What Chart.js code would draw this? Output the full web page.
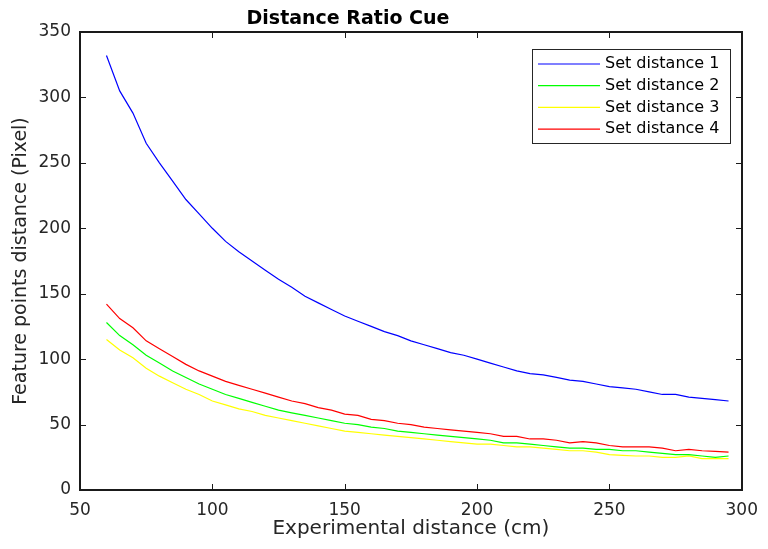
<!DOCTYPE html>
<html lang="en">
<head>
  <meta charset="UTF-8">
  <title>Distance Ratio Cue</title>
  <script src="https://cdn.jsdelivr.net/npm/chart.js"></script>
  <style>
    html, body { margin: 0; padding: 0; background: #fff; }
    #chart { display: block; }
  </style>
</head>
<body>
  <canvas id="chart" width="768" height="549"></canvas>

  <script>
    // experimental distance (cm)
    const distances = [60, 65, 70, 75, 80, 85, 90, 95, 100, 105,
      110, 115, 120, 125, 130, 135, 140, 145, 150, 155,
      160, 165, 170, 175, 180, 185, 190, 195, 200, 205,
      210, 215, 220, 225, 230, 235, 240, 245, 250, 255,
      260, 265, 270, 275, 280, 285, 290, 295];

    // feature points distance (pixel), one list per set distance
    const set1 = [332, 305, 288, 265, 250, 236, 222, 211, 200, 190,
      182, 175, 168, 161, 155, 148, 143, 138, 133, 129,
      125, 121, 118, 114, 111, 108, 105, 103, 100, 97,
      94, 91, 89, 88, 86, 84, 83, 81, 79, 78,
      77, 75, 73, 73, 71, 70, 69, 68];
    const set2 = [128, 118, 111, 103, 97, 91, 86, 81, 77, 73,
      70, 67, 64, 61, 59, 57, 55, 53, 51, 50,
      48, 47, 45, 44, 43, 42, 41, 40, 39, 38,
      36, 36, 35, 34, 33, 32, 32, 31, 31, 30,
      30, 29, 28, 27, 27, 26, 25, 26];
    const set3 = [115, 107, 101, 93, 87, 82, 77, 73, 68, 65,
      62, 60, 57, 55, 53, 51, 49, 47, 45, 44,
      43, 42, 41, 40, 39, 38, 37, 36, 35, 35,
      34, 33, 33, 32, 31, 30, 30, 29, 27, 26.5,
      26, 26, 25, 25, 26, 24, 24, 24];
    const set4 = [142, 131, 124, 114, 108, 102, 96, 91, 87, 83,
      80, 77, 74, 71, 68, 66, 63, 61, 58, 57,
      54, 53, 51, 50, 48, 47, 46, 45, 44, 43,
      41, 41, 39, 39, 38, 36, 37, 36, 34, 33,
      33, 33, 32, 30, 31, 30, 29.5, 29];

    const seriesNames = ['Set distance 1', 'Set distance 2', 'Set distance 3', 'Set distance 4'];
    const seriesData = [set1, set2, set3, set4];
    const seriesColors = ['#0000ff', '#00ff00', '#ffff00', '#ff0000'];

    const xTicks = [50, 100, 150, 200, 250, 300];
    const yTicks = [0, 50, 100, 150, 200, 250, 300, 350];

    const ink = '#262626';
    const fontFace = "'DejaVu Sans', Arial, sans-serif";

    const datasets = seriesData.map((vals, i) => ({
      label: seriesNames[i],
      data: distances.map((d, j) => ({ x: d, y: vals[j] })),
      borderColor: seriesColors[i],
      backgroundColor: seriesColors[i],
      borderWidth: 1.2,
      pointRadius: 0,
      tension: 0,
      fill: false
    }));

    // frame with inward ticks, title and legend, MATLAB style
    const matlabAxes = {
      id: 'matlabAxes',
      afterDraw(chart) {
        const ctx = chart.ctx;
        const xs = chart.scales.x, ys = chart.scales.y;
        const x0 = Math.round(xs.getPixelForValue(50));
        const x1 = Math.round(xs.getPixelForValue(300));
        const y0 = Math.round(ys.getPixelForValue(0));
        const y1 = Math.round(ys.getPixelForValue(350));
        const tl = 6;
        ctx.save();
        ctx.fillStyle = '#1a1a1a';
        ctx.fillRect(x0 - 1, y1 - 1, x1 - x0 + 2, 2);
        ctx.fillRect(x0 - 1, y0 - 1, x1 - x0 + 2, 2);
        ctx.fillRect(x0 - 1, y1 - 1, 2, y0 - y1 + 2);
        ctx.fillRect(x1 - 1, y1 - 1, 2, y0 - y1 + 2);
        for (const v of xTicks) {
          const px = Math.round(xs.getPixelForValue(v));
          ctx.fillRect(px, y0 - tl, 1, tl);
          ctx.fillRect(px, y1, 1, tl);
        }
        for (const v of yTicks) {
          const py = Math.round(ys.getPixelForValue(v));
          ctx.fillRect(x0, py, tl, 1);
          ctx.fillRect(x1 - tl, py, tl, 1);
        }

        // title
        ctx.fillStyle = '#000';
        ctx.font = 'bold 19px ' + fontFace;
        ctx.textAlign = 'center';
        ctx.textBaseline = 'alphabetic';
        ctx.fillText('Distance Ratio Cue', 348, 24);

        // legend
        const lx = 532, ly = 49, lw = 198, lh = 94;
        ctx.fillStyle = '#fff';
        ctx.fillRect(lx, ly, lw, lh);
        ctx.lineWidth = 1;
        ctx.strokeStyle = ink;
        ctx.strokeRect(lx + 0.5, ly + 0.5, lw, lh);
        ctx.font = '16px ' + fontFace;
        ctx.textAlign = 'left';
        ctx.textBaseline = 'middle';
        seriesNames.forEach((name, i) => {
          const ry = ly + 15 + i * 21.7;
          ctx.strokeStyle = seriesColors[i];
          ctx.lineWidth = 1.2;
          ctx.beginPath();
          ctx.moveTo(lx + 6, ry); ctx.lineTo(lx + 68, ry);
          ctx.stroke();
          ctx.fillStyle = '#000';
          ctx.fillText(name, lx + 73, ry);
        });
        ctx.restore();
      }
    };

    const frameBorder = { display: true, color: ink, width: 1.6 };

    new Chart(document.getElementById('chart'), {
      type: 'line',
      data: { datasets: datasets },
      options: {
        responsive: false,
        devicePixelRatio: 1,
        animation: false,
        layout: { padding: { top: 32, right: 19, left: 0, bottom: 0 } },
        plugins: {
          legend: { display: false },
          title: { display: false },
          tooltip: { enabled: false }
        },
        scales: {
          x: {
            type: 'linear',
            position: 'bottom',
            min: 50,
            max: 300,
            afterFit: s => { s.height = 59; },
            afterBuildTicks: s => { s.ticks = xTicks.map(v => ({ value: v })); },
            grid: { display: false, drawTicks: false },
            border: frameBorder,
            ticks: { color: ink, font: { family: fontFace, size: 17 }, padding: 10, maxRotation: 0 },
            title: {
              display: true,
              text: 'Experimental distance (cm)',
              color: ink,
              font: { family: fontFace, size: 20 },
              padding: { top: 0, bottom: 8 }
            }
          },
          xTop: {
            type: 'linear',
            position: 'top',
            min: 50,
            max: 300,
            afterFit: s => { s.height = 0; },
            grid: { display: false, drawTicks: false },
            border: frameBorder,
            ticks: { display: false }
          },
          y: {
            position: 'left',
            min: 0,
            max: 350,
            afterFit: s => { s.width = 80; },
            afterBuildTicks: s => { s.ticks = yTicks.map(v => ({ value: v })); },
            grid: { display: false, drawTicks: false },
            border: frameBorder,
            ticks: { color: ink, font: { family: fontFace, size: 17 }, padding: 9 },
            title: {
              display: true,
              text: 'Feature points distance (Pixel)',
              color: ink,
              font: { family: fontFace, size: 19 },
              padding: { top: 10, bottom: 0 }
            }
          },
          yRight: {
            position: 'right',
            min: 0,
            max: 350,
            afterFit: s => { s.width = 0; },
            grid: { display: false, drawTicks: false },
            border: frameBorder,
            ticks: { display: false }
          }
        }
      },
      plugins: [matlabAxes]
    });
  </script>
</body>
</html>
